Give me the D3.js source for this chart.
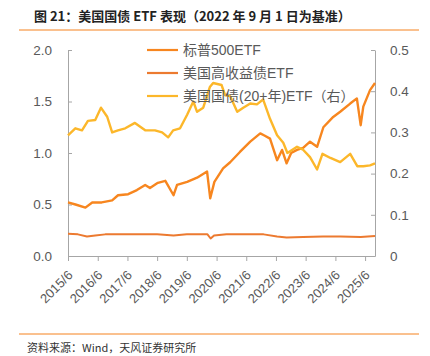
<!DOCTYPE html>
<html>
<head>
<meta charset="utf-8">
<script src="https://cdn.jsdelivr.net/npm/d3@7"></script>
<style>
  html, body { margin: 0; padding: 0; background: #fff; }
  svg { display: block; }
  text { font-family: "Liberation Sans", Arial, "Noto Sans CJK SC", sans-serif; }
</style>
</head>
<body>
<svg id="chart" width="430" height="356"></svg>
<script>
// ---------- data ----------
const titleText = "图 21：美国国债 ETF 表现（2022 年 9 月 1 日为基准）";
const sourceText = "资料来源：Wind，天风证券研究所";
const seriesNames = ["标普500ETF", "美国高收益债ETF", "美国国债(20+年)ETF（右）"];
const xTickLabels = ["2015/6","2016/6","2017/6","2018/6","2019/6","2020/6","2021/6","2022/6","2023/6","2024/6","2025/6"];
const leftTicks = [0, 0.5, 1.0, 1.5, 2.0];
const rightTicks = [0, 0.1, 0.2, 0.3, 0.4, 0.5];

// 标普500ETF (left axis)
const spxDates = ["2015-06-01","2015-09-01","2016-01-01","2016-03-25","2016-07-20","2016-11-25","2017-02-05","2017-06-10","2017-09-25","2018-01-05","2018-03-05","2018-06-10","2018-09-10","2018-12-20","2019-02-01","2019-06-05","2019-10-05","2020-02-05","2020-03-15","2020-05-05","2020-08-20","2020-11-15","2021-03-15","2021-07-20","2021-11-20","2022-01-10","2022-03-20","2022-06-15","2022-08-15","2022-10-10","2022-12-05","2023-02-15","2023-05-01","2023-07-25","2023-10-20","2024-01-05","2024-05-05","2024-07-30","2024-11-30","2025-02-20","2025-04-08","2025-05-10","2025-08-01","2025-10-01"];
const spxValues = [0.52,0.50,0.47,0.52,0.52,0.54,0.59,0.60,0.64,0.69,0.66,0.71,0.73,0.59,0.69,0.72,0.76,0.82,0.56,0.72,0.85,0.91,1.01,1.11,1.19,1.17,1.14,0.93,1.03,0.90,1.00,1.03,1.05,1.11,1.06,1.25,1.35,1.40,1.48,1.53,1.27,1.45,1.61,1.68];

// 美国高收益债ETF (left axis)
const hyDates = ["2015-06-01","2015-10-01","2016-01-20","2016-05-01","2016-09-01","2017-06-01","2018-06-01","2018-12-20","2019-06-01","2020-02-10","2020-03-20","2020-05-01","2020-10-01","2021-06-01","2022-01-01","2022-06-15","2022-10-10","2023-05-01","2024-01-01","2024-08-01","2025-04-08","2025-10-01"];
const hyValues = [0.215,0.21,0.19,0.20,0.21,0.21,0.21,0.20,0.21,0.21,0.17,0.20,0.21,0.21,0.21,0.19,0.18,0.185,0.19,0.19,0.185,0.195];

// 美国国债(20+年)ETF (right axis)
const tltDates = ["2015-06-01","2015-08-30","2015-11-20","2016-02-01","2016-05-01","2016-07-10","2016-09-25","2016-11-25","2017-02-05","2017-05-05","2017-09-01","2018-01-05","2018-05-05","2018-08-01","2018-10-15","2018-12-15","2019-03-10","2019-06-05","2019-08-20","2019-10-05","2019-12-20","2020-03-10","2020-04-20","2020-08-01","2020-09-15","2020-11-15","2021-02-10","2021-04-25","2021-07-20","2021-10-10","2021-12-25","2022-03-20","2022-06-15","2022-08-30","2022-10-20","2023-02-15","2023-05-01","2023-07-25","2023-10-20","2023-12-25","2024-04-01","2024-07-30","2024-11-30","2025-02-25","2025-05-10","2025-08-01","2025-10-01"];
const tltValues = [0.293,0.310,0.305,0.328,0.330,0.360,0.338,0.300,0.305,0.310,0.323,0.305,0.305,0.300,0.288,0.305,0.310,0.343,0.375,0.350,0.360,0.410,0.420,0.415,0.390,0.388,0.350,0.360,0.370,0.368,0.380,0.333,0.293,0.275,0.250,0.265,0.258,0.240,0.210,0.248,0.238,0.228,0.248,0.218,0.218,0.220,0.225];

// ---------- layout ----------
const colors = { spx: "#F7861F", hy: "#EC7A30", tlt: "#FCB72A" };
const svg = d3.select("#chart");
const X0 = 68, X1 = 375, Y0 = 256, Y1 = 50;
const parse = d3.timeParse("%Y-%m-%d");

const x = d3.scaleTime().domain([parse("2015-06-01"), parse("2025-10-01")]).range([X0, X1]);
const yL = d3.scaleLinear().domain([0, 2]).range([Y0, Y1]);
const yR = d3.scaleLinear().domain([0, 0.5]).range([Y0, Y1]);

// title
svg.append("text").attr("x", 34).attr("y", 21)
  .attr("font-size", 13).attr("font-weight", "bold").attr("fill", "#222")
  .style("font-family", "'Noto Sans CJK SC', sans-serif")
  .text(titleText);
svg.append("line").attr("x1", 19).attr("x2", 419).attr("y1", 30).attr("y2", 30)
  .attr("stroke", "#F5821F").attr("stroke-width", 1);

// footer
svg.append("line").attr("x1", 19).attr("x2", 419).attr("y1", 334).attr("y2", 334)
  .attr("stroke", "#F5821F").attr("stroke-width", 1);
svg.append("text").attr("x", 27).attr("y", 352)
  .attr("font-size", 11).attr("fill", "#333")
  .style("font-family", "'Noto Sans CJK SC', sans-serif")
  .text(sourceText);

const axisColor = "#A6A6A6", labelColor = "#595959";
function styleAxis(g) {
  g.select(".domain").attr("stroke", axisColor);
  g.selectAll(".tick line").attr("stroke", axisColor);
  g.selectAll(".tick text").attr("fill", labelColor).attr("font-size", 13.5)
    .style("font-family", "'Liberation Sans', Arial, sans-serif");
}

// left axis
svg.append("g").attr("transform", `translate(${X0},0)`)
  .call(d3.axisLeft(yL).tickValues(leftTicks).tickFormat(d3.format(".1f"))
    .tickSizeInner(-4).tickSizeOuter(0).tickPadding(16))
  .call(styleAxis);

// right axis
svg.append("g").attr("transform", `translate(${X1},0)`)
  .call(d3.axisRight(yR).tickValues(rightTicks).tickFormat(d => d === 0 ? "0" : d.toFixed(1))
    .tickSizeInner(-4).tickSizeOuter(0).tickPadding(15))
  .call(styleAxis);

// bottom axis
const xTickDates = xTickLabels.map(s => { const [yy, mm] = s.split("/"); return new Date(+yy, +mm - 1, 1); });
const gx = svg.append("g").attr("transform", `translate(0,${Y0})`)
  .call(d3.axisBottom(x).tickValues(xTickDates).tickFormat((d, i) => xTickLabels[i])
    .tickSizeInner(5).tickSizeOuter(0))
  .call(styleAxis);
gx.selectAll(".tick text")
  .attr("text-anchor", "end")
  .attr("y", 0).attr("dy", 0)
  .attr("transform", "translate(5,20) rotate(-45)")
  .attr("font-size", 13);

// lines
function mk(dates, values) { return dates.map((d, i) => ({ date: parse(d), v: values[i] })); }
const lineL = d3.line().x(d => x(d.date)).y(d => yL(d.v));
const lineR = d3.line().x(d => x(d.date)).y(d => yR(d.v));

svg.append("path").datum(mk(spxDates, spxValues)).attr("d", lineL)
  .attr("fill", "none").attr("stroke", colors.spx).attr("stroke-width", 2.4).attr("stroke-linejoin", "round");
svg.append("path").datum(mk(hyDates, hyValues)).attr("d", lineL)
  .attr("fill", "none").attr("stroke", colors.hy).attr("stroke-width", 2).attr("stroke-linejoin", "round");
svg.append("path").datum(mk(tltDates, tltValues)).attr("d", lineR)
  .attr("fill", "none").attr("stroke", colors.tlt).attr("stroke-width", 2.4).attr("stroke-linejoin", "round");

// legend
const legColors = [colors.spx, colors.hy, colors.tlt];
const leg = svg.append("g");
seriesNames.forEach((name, i) => {
  const yy = 50 + i * 23;
  leg.append("line").attr("x1", 147).attr("x2", 178).attr("y1", yy).attr("y2", yy)
    .attr("stroke", legColors[i]).attr("stroke-width", 2.2);
  leg.append("text").attr("x", 183).attr("y", yy + 5)
    .attr("font-size", 14).attr("fill", labelColor)
    .style("font-family", "'Liberation Sans', 'Noto Sans CJK SC', sans-serif")
    .text(name);
});
</script>
</body>
</html>
